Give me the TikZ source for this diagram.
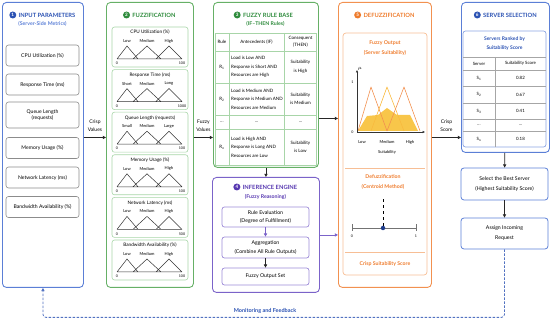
\documentclass[tikz,border=0pt]{standalone}
\usepackage{fontspec}
\setmainfont{Lato}
\usepackage{tikz}
\usetikzlibrary{positioning,arrows.meta}
\definecolor{inblue}{HTML}{5B7FD6}
\definecolor{inblued}{HTML}{2B52B3}
\definecolor{fzgreen}{HTML}{66B066}
\definecolor{fzgreend}{HTML}{2E8B3C}
\definecolor{fzgreenl}{HTML}{A8D5A8}
\definecolor{inpurple}{HTML}{7B63C9}
\definecolor{inpurpled}{HTML}{5637B0}
\definecolor{dforange}{HTML}{F29150}
\definecolor{dforanged}{HTML}{EE7B2C}
\definecolor{dforangel}{HTML}{F7BE95}
\definecolor{dfyellow}{HTML}{F8C64A}
\definecolor{boxgray}{HTML}{8C8C8C}
\definecolor{dotblue}{HTML}{1E3C8C}
\newcommand{\fs}[2]{\fontsize{#1}{#2}\selectfont}
\tikzset{
  panel/.style={draw, rounded corners=4pt, line width=0.9pt, anchor=north west, inner sep=0pt},
  ttl/.style={font=\fs{5.8}{6.8}\bfseries, inner sep=0.5pt},
  subttl/.style={font=\fs{5.2}{6}\bfseries, inner sep=0.5pt},
  badge/.style={circle, fill=#1, text=white, font=\fs{4.6}{5}\bfseries, inner sep=0pt, minimum size=7pt},
  param/.style={draw=boxgray, rounded corners=2.5pt, line width=0.6pt, minimum width=73pt,
    minimum height=21pt, align=center, font=\fs{5.1}{6.8}, inner sep=1pt},
  subbox/.style={draw=fzgreenl, rounded corners=2.5pt, line width=0.6pt, minimum width=76pt, minimum height=40pt},
  mttl/.style={font=\fs{4.7}{5.5}, inner sep=0.5pt},
  term/.style={font=\fs{4.1}{4.7}, inner sep=0.3pt},
  rng/.style={font=\fs{3.6}{4}, inner sep=0.3pt},
  mfline/.style={line width=0.5pt, black!80},
  tline/.style={draw=fzgreenl, line width=0.6pt},
  sline/.style={draw=black!35, line width=0.5pt},
  tcell/.style={font=\fs{4.5}{8.6}, align=center, inner sep=0.5pt},
  rcell/.style={font=\fs{4.4}{5}, inner sep=0.5pt},
  flow/.style={font=\fs{5}{8}, align=center, inner sep=0.5pt},
  arr/.style={-{Triangle[length=3.2pt,width=3.2pt]}, line width=0.7pt, draw=black!85},
  parr/.style={arr, draw=inpurple},
  ibox/.style={draw=inpurple!75, rounded corners=2.5pt, line width=0.7pt, minimum width=87pt,
    align=center, font=\fs{5.2}{8.7}},
  sbox/.style={draw=inblue, rounded corners=3pt, line width=0.8pt, minimum width=87pt,
    align=center, font=\fs{5.2}{9.7}},
  otxt/.style={text=dforanged, align=center, font=\fs{5.2}{10}\bfseries, inner sep=0.5pt},
  mfo/.style={line width=0.6pt, line join=round},
  chartax/.style={-{Triangle[length=2.5pt,width=2.2pt]}, line width=0.6pt, draw=black!80},
  fb/.style={dash pattern=on 2.5pt off 1.5pt, draw=inblue!90!black, line width=0.8pt,
    rounded corners=3pt, -{Triangle[length=3.2pt,width=3.2pt]}},
  fbtxt/.style={text=inblued, font=\fs{5.5}{6}\bfseries, inner sep=0.5pt},
}
% membership plot: name, top, title, three terms, range end
\newcommand{\mfplot}[7]{%
  \node[subbox] (#1) at (150,#2+20) {};
  \node[mttl] (#1-t) at (150,#2+5.5) {#3};
  \node[term] (#1-a) at (127,#2+14) {#4};
  \node[term] (#1-b) at (147,#2+14) {#5};
  \node[term] (#1-c) at (169,#2+14) {#6};
  \draw[mfline] (117,#2+32) -- (182,#2+32)
    (117,#2+32) -- (127,#2+19) -- (138,#2+32)
    (133,#2+32) -- (147,#2+19) -- (161,#2+32)
    (156,#2+32) -- (169,#2+19) -- (182,#2+32);
  \node[rng] (#1-l) at (117,#2+36.5) {0};
  \node[rng] (#1-r) at (182,#2+36.5) {#7};}

\begin{document}
\begin{tikzpicture}[x=1pt, y=-1pt]
  \useasboundingbox (0,0) rectangle (550,323);
  % 1: input parameters
  \node[panel, draw=inblue, minimum width=81pt, minimum height=285pt] (inp) at (2,2) {};
  \node[ttl, text=inblued] (inp-t) at (47,15) {INPUT PARAMETERS};
  \node[badge=inblued, left=1.5pt of inp-t] (inp-b) {1};
  \node[subttl, text=inblue] (inp-s) at (42.5,24) {(Server-Side Metrics)};
  \node[param] (cpu) at (42.5,55.5) {CPU Utilization (\%)};
  \node[param] (resp) at (42.5,84.5) {Response Time (ms)};
  \node[param, minimum height=26pt] (queue) at (42.5,115) {Queue Length\\(requests)};
  \node[param] (mem) at (42.5,148) {Memory Usage (\%)};
  \node[param] (net) at (42.5,177.5) {Network Latency (ms)};
  \node[param] (bw) at (42.5,207) {Bandwidth Availability (\%)};

  % 2: fuzzification, one plot per input
  \node[panel, draw=fzgreen, minimum width=87pt, minimum height=285pt] (fuz) at (106,2) {};
  \node[ttl, text=fzgreend] (fuz-t) at (154,15) {FUZZIFICATION};
  \node[badge=fzgreend, left=1.5pt of fuz-t] (fuz-b) {2};
  \mfplot{mcpu}{27}{CPU Utilization (\%)}{Low}{Medium}{High}{100}
  \mfplot{mresp}{69.6}{Response Time (ms)}{Short}{Medium}{Long}{1000}
  \mfplot{mque}{112.2}{Queue Length (requests)}{Small}{Medium}{Large}{100}
  \mfplot{mmem}{154.8}{Memory Usage (\%)}{Low}{Medium}{High}{100}
  \mfplot{mnet}{197.4}{Network Latency (ms)}{Low}{Medium}{High}{500}
  \mfplot{mbw}{240}{Bandwidth Availability (\%)}{Low}{Medium}{High}{100}

  % 3: rule base table
  \node[panel, draw=fzgreen, minimum width=105pt, minimum height=165pt] (rb) at (213,2) {};
  \node[ttl, text=fzgreend] (rb-t) at (268,15) {FUZZY RULE BASE};
  \node[badge=fzgreend, left=1.5pt of rb-t] (rb-b) {3};
  \node[subttl, text=fzgreend] (rb-s) at (265.5,24) {(IF--THEN Rules)};
  \draw[tline] (215.5,33) rectangle (316.5,165);
  \foreach \y in {51,83,115,129} \draw[tline] (215.5,\y) -- (316.5,\y);
  \foreach \x in {229,284} \draw[tline] (\x,33) -- (\x,165);
  \node[tcell] (rh1) at (222,42) {Rule};
  \node[tcell] (rh2) at (256.5,42) {Antecedents (IF)};
  \node[tcell, font=\fs{4.5}{7.4}] (rh3) at (300.5,42) {Consequent\\(THEN)};
  \node[tcell] (r1n) at (222,67) {R\textsubscript{1}};
  \node[tcell, anchor=west, align=left] (r1a) at (230.5,67) {Load is Low AND\\Response is Short AND\\Resources are High};
  \node[tcell] (r1c) at (300.5,67) {Suitability\\is High};
  \node[tcell] (r2n) at (222,99) {R\textsubscript{2}};
  \node[tcell, anchor=west, align=left] (r2a) at (230.5,99) {Load is Medium AND\\Response is Medium AND\\Resources are Medium};
  \node[tcell] (r2c) at (300.5,99) {Suitability\\is Medium};
  \node[tcell] (rdn) at (222,122) {...};
  \node[tcell] (rda) at (256.5,122) {...};
  \node[tcell] (rdc) at (300.5,122) {...};
  \node[tcell] (rnn) at (222,147) {R\textsubscript{n}};
  \node[tcell, anchor=west, align=left] (rna) at (230.5,147) {Load is High AND\\Response is Long AND\\Resources are Low};
  \node[tcell] (rnc) at (300.5,147) {Suitability\\is Low};

  % 4: inference engine
  \node[panel, draw=inpurple, minimum width=107pt, minimum height=115pt] (inf) at (212,177) {};
  \node[ttl, text=inpurpled] (inf-t) at (270,187) {INFERENCE ENGINE};
  \node[badge=inpurpled, left=1.5pt of inf-t] (inf-b) {4};
  \node[subttl, text=inpurpled] (inf-s) at (265.5,197) {(Fuzzy Reasoning)};
  \node[ibox, minimum height=20pt] (reval) at (265.5,217) {Rule Evaluation\\(Degree of Fulfillment)};
  \node[ibox, minimum height=21pt] (agg) at (265.5,247.5) {Aggregation\\(Combine All Rule Outputs)};
  \node[ibox, minimum height=17pt] (fos) at (265.5,276.5) {Fuzzy Output Set};
  \draw[parr] (reval) -- (agg);
  \draw[arr] (agg) -- (fos);
  \draw[arr] (rb) -- (inf);

  % 5: defuzzification
  \node[panel, draw=dforange, minimum width=93pt, minimum height=285pt] (dfz) at (338,2) {};
  \node[ttl, text=dforanged] (dfz-t) at (389,15) {DEFUZZIFICATION};
  \node[badge=dforanged, left=1.5pt of dfz-t] (dfz-b) {5};
  \node[draw=dforangel, rounded corners=3pt, line width=0.7pt, minimum width=84pt, minimum height=242pt] (dfz-in) at (385,154) {};
  \draw[draw=dforangel, line width=0.7pt] (345,168) -- (425,168) (345,252) -- (425,252);
  \node[otxt] (fo-t) at (385,48) {Fuzzy Output\\(Server Suitability)};
  \fill[dfyellow] (358,131) -- (367,116) -- (378,115) -- (387,108) -- (397,115)
    -- (410,115) -- (418,131) -- cycle;
  \draw[mfo, draw=dforange] (358,131) -- (371,87) -- (387,131);
  \draw[mfo, draw=dfyellow!85!orange] (371,131) -- (387,87) -- (404,131);
  \draw[mfo, draw=dforange] (387,131) -- (404,87) -- (420,131);
  \draw[chartax] (357,132) -- (357,70);
  \draw[chartax] (357,132) -- (425,132);
  \node[rng, font=\fs{4.7}{5}] (ax-mu) at (360,68.5) {$\mu$};
  \node[rng] (ax-1) at (352.5,82) {1};
  \node[rng] (ax-0) at (352.5,132) {0};
  \node[term] (ax-lo) at (362,142) {Low};
  \node[term] (ax-me) at (387,142) {Medium};
  \node[term] (ax-hi) at (410,142) {High};
  \node[term] (ax-su) at (387,152) {Suitability};
  \node[otxt] (cm-t) at (383,182) {Defuzzification\\(Centroid Method)};
  \draw[line width=0.6pt, black!55] (352,228) -- (416,228)
    (352,224.5) -- (352,231.5) (416,224.5) -- (416,231.5);
  \node[circle, fill=dotblue, inner sep=0pt, minimum size=4.5pt] (centroid) at (383,228) {};
  \draw[dashed, line width=0.5pt] (centroid) -- ++(0,-31);
  \node[rng] (nl-0) at (352,236) {0};
  \node[rng] (nl-1) at (416,236) {1};
  \node[otxt] (crisp) at (385,264) {Crisp Suitability Score};

  % 6: server selection
  \node[panel, draw=inblue, minimum width=88pt, minimum height=150pt] (sel) at (461,2) {};
  \node[ttl, text=inblued] (sel-t) at (510,15) {SERVER SELECTION};
  \node[badge=inblued, left=1.5pt of sel-t] (sel-b) {6};
  \node[draw=inblue!70, rounded corners=2.5pt, line width=0.7pt, minimum width=83pt, minimum height=116pt] (rank) at (504.5,89) {};
  \node[subttl, text=inblued, align=center, font=\fs{5}{8.7}\bfseries] (rank-t) at (504.5,43.5) {Servers Ranked by\\Suitability Score};
  \foreach \y in {57,70,86.5,103,119.5,131} \draw[sline] (463,\y) -- (546,\y);
  \draw[sline] (495,57) -- (495,147);
  \node[rcell] (sh1) at (479,63.5) {Server};
  \node[rcell] (sh2) at (520.5,63.5) {Suitability Score};
  \node[rcell] (s1a) at (479,78.25) {S\textsubscript{1}};
  \node[rcell] (s1b) at (520.5,78.25) {0.82};
  \node[rcell] (s2a) at (479,94.75) {S\textsubscript{2}};
  \node[rcell] (s2b) at (520.5,94.75) {0.67};
  \node[rcell] (s3a) at (479,111.25) {S\textsubscript{3}};
  \node[rcell] (s3b) at (520.5,111.25) {0.41};
  \node[rcell] (sda) at (479,125.25) {...};
  \node[rcell] (sdb) at (520.5,125.25) {...};
  \node[rcell] (sna) at (479,139) {S\textsubscript{n}};
  \node[rcell] (snb) at (520.5,139) {0.18};
  \node[sbox, minimum height=32pt] (best) at (504.5,184) {Select the Best Server\\(Highest Suitability Score)};
  \node[sbox, minimum height=31pt, font=\fs{5.2}{10}] (assign) at (504.5,233.5) {Assign Incoming\\Request};
  \draw[arr] (sel) -- (best);
  \draw[arr] (best) -- (assign);

  % flow between the stages
  \coordinate (c1) at ([yshift=7.5pt]inp.east);
  \coordinate (c2) at ([yshift=7.5pt]fuz.east);
  \coordinate (c3) at ([yshift=-33.5pt]rb.east);
  \coordinate (c5) at ([yshift=7.5pt]dfz.east);
  \draw[arr] (c1) -- node[flow, above=5pt] (cv) {Crisp\\Values} (c1 -| fuz.west);
  \draw[arr] (c2) -- node[flow, above=5pt] (fv) {Fuzzy\\Values} (c2 -| rb.west);
  \draw[arr] (c3) -- (c3 -| dfz.west);
  \draw[parr] (inf.east) -- (inf.east -| dfz.west);
  \draw[arr] (c5) -- node[flow, above=5pt] (cs) {Crisp\\Score} (c5 -| sel.west);
  % feedback loop
  \draw[fb] (assign.south) -- ++(0,68) -| (inp.south);
  \node[fbtxt] (fb-t) at (265,311) {Monitoring and Feedback};
\end{tikzpicture}
\end{document}
